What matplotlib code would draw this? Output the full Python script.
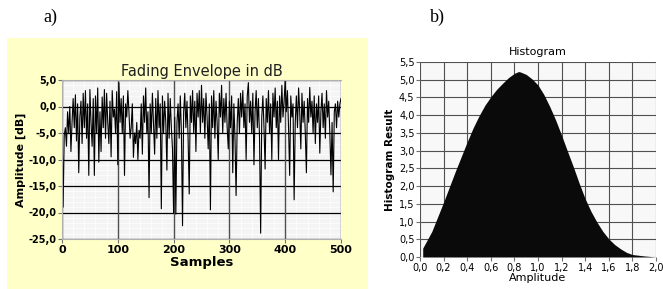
import numpy as np
import matplotlib
matplotlib.use("Agg")
import matplotlib.pyplot as plt
from matplotlib.patches import Rectangle
from matplotlib.ticker import FuncFormatter, MultipleLocator

# fading envelope, every 2nd sample (0..500)
fading_db = [
    -2.2, -19.0, -5.5, -4.0, -7.5, -1.0, -5.0, 0.0, -8.5, -3.0,
    1.5, -4.0, 2.2, -6.5, 0.5, -12.5, -2.0, 1.0, -7.0, 2.5,
    -4.0, 3.0, -6.0, 0.5, -13.0, 3.2, -3.0, -7.5, 1.5, -13.0,
    2.0, -5.0, 3.5, -10.5, -1.0, -8.5, 1.8, -4.0, 3.2, -6.0,
    2.5, -3.0, -7.0, 1.0, -9.5, 3.0, -2.0, -0.5, -5.0, 2.8,
    -11.0, 4.5, -3.0, 1.5, -5.0, 2.0, -13.0, 0.5, -2.0, 3.0,
    -1.0, -6.0, -4.0, 0.5, -9.6, -5.0, -7.0, -3.0, -10.0, -4.5,
    -6.0, 0.5, -9.0, 2.0, -3.0, 3.5, -5.0, -1.0, -17.2, 0.5,
    -5.0, 2.5, -3.0, -9.0, 1.5, -6.0, 3.0, -4.0, 0.5, -19.3,
    2.0, -5.0, 1.0, -3.0, -12.0, 2.5, -6.0, 1.5, -4.0, -8.0,
    -20.2, -2.0, -20.3, -3.0, 0.5, -6.0, 2.0, -5.0, -22.5, -1.0,
    2.5, -4.0, 1.0, -6.0, -16.5, 2.0, -3.0, 3.0, -5.0, 1.0,
    -8.5, 2.5, -2.0, 3.0, -5.0, 4.0, -3.0, 1.5, -6.0, 2.5,
    -2.0, -8.0, 0.5, -19.5, 2.0, -4.0, 3.0, -6.0, 1.0, -3.0,
    -10.0, 2.5, -2.0, 4.0, -5.0, 1.5, -3.0, 2.5, -4.0, -8.0,
    1.0, -4.0, 2.0, -12.5, 0.5, -6.0, -16.8, -3.0, 1.5, -5.0,
    2.5, -2.0, 3.0, -4.0, 0.5, -10.0, 2.0, 4.5, -3.0, 1.0,
    -5.0, 2.5, -11.0, -1.0, 3.0, -4.0, 1.5, -6.0, -23.9, -2.0,
    2.0, -4.0, -11.8, 1.5, -3.0, 3.0, -5.0, 0.5, -10.0, 2.5,
    -2.0, 3.5, -4.0, 1.0, -10.0, 2.0, -3.0, 4.0, -2.0, 1.0,
    5.0, -1.0, 3.0, -4.0, -13.0, 2.0, -2.0, 0.5, -17.6, -3.0,
    2.0, -4.0, 3.5, -1.0, -8.0, 2.5, -3.0, 1.0, -5.0, -12.5,
    1.5, -3.0, 3.6, -2.0, 1.0, -5.0, 2.0, -7.0, 0.5, -3.0,
    2.0, -8.8, -1.0, 2.5, -4.0, 0.5, -6.0, 3.0, -2.0, 1.0,
    -5.0, -12.9, -3.0, -16.1, -1.0, 0.5, -4.0, 1.0, -2.0, 0.5,
    1.5,
]
samples = np.arange(len(fading_db)) * 2

# histogram curve
hist_amp = [0.023, 0.023, 0.1, 0.2, 0.3, 0.4, 0.45, 0.5, 0.55, 0.6, 0.65, 0.7, 0.75,
            0.8, 0.835, 0.85, 0.9, 0.95, 1.0, 1.05, 1.1, 1.15, 1.2, 1.25, 1.3,
            1.35, 1.4, 1.45, 1.5, 1.55, 1.6, 1.65, 1.7, 1.75, 1.8, 1.9, 2.0]
hist_val = [0.0, 0.25, 0.72, 1.55, 2.42, 3.25, 3.64, 3.98, 4.28, 4.52, 4.73, 4.9, 5.06,
            5.18, 5.23, 5.22, 5.15, 5.02, 4.85, 4.58, 4.24, 3.86, 3.43, 2.98, 2.54,
            2.07, 1.64, 1.28, 0.98, 0.72, 0.51, 0.35, 0.23, 0.13, 0.07, 0.03, 0.0]

comma = lambda fmt: FuncFormatter(lambda v, p: (fmt % v).replace(".", ","))

fig = plt.figure(figsize=(6.63, 2.89), dpi=100)
panel = Rectangle((7 / 663, 0), 361 / 663, 251 / 289, transform=fig.transFigure,
                  facecolor="#FFFFC8", edgecolor="none", zorder=-1)
fig.patches.append(panel)

# ---- a) fading envelope
ax1 = fig.add_axes([62 / 663, 50 / 289, 279 / 663, 159 / 289], zorder=2)
ax1.set_facecolor("#F4F4F4")
ax1.set_xlim(0, 500)
ax1.set_ylim(-25, 5)
ax1.xaxis.set_major_locator(MultipleLocator(100))
ax1.yaxis.set_major_locator(MultipleLocator(5))
ax1.xaxis.set_minor_locator(MultipleLocator(20))
ax1.yaxis.set_minor_locator(MultipleLocator(1))
ax1.yaxis.set_major_formatter(comma("%.1f"))
ax1.grid(which="minor", color="white", lw=0.5)
for yv in ax1.get_yticks()[1:-1]:
    ax1.axhline(yv, color="black", lw=0.9, zorder=1.8)
for xv in ax1.get_xticks()[1:-1]:
    ax1.axvline(xv, color="#505050", lw=1.0, zorder=1.8)
ax1.plot(samples, fading_db, color="black", lw=0.8, zorder=2.5)
ax1.tick_params(which="minor", length=0)
ax1.tick_params(which="major", length=3, width=0.8, color="#707070", pad=1)
for lab in ax1.get_xticklabels() + ax1.get_yticklabels():
    lab.set_fontweight("bold")
ax1.tick_params(axis="y", labelsize=7)
ax1.tick_params(axis="x", labelsize=8)
for s in ax1.spines.values():
    s.set_color("#B0B0B0")
ax1.spines["right"].set_visible(False)
ax1.set_title("Fading Envelope in dB", fontsize=10.5, pad=3, color="#202020")
ax1.set_xlabel("Samples", fontsize=9.5, fontweight="bold", labelpad=1)
ax1.set_ylabel("Amplitude [dB]", fontsize=8, fontweight="bold", labelpad=2)

# ---- b) histogram
ax2 = fig.add_axes([420 / 663, 32 / 289, 236 / 663, 195 / 289], zorder=2)
ax2.set_facecolor("#F8F8F8")
ax2.fill_between(hist_amp, hist_val, 0, color="#0A0A0A", lw=0, zorder=3)
ax2.set_xlim(0, 2)
ax2.set_ylim(0, 5.5)
ax2.xaxis.set_major_locator(MultipleLocator(0.2))
ax2.yaxis.set_major_locator(MultipleLocator(0.5))
ax2.xaxis.set_major_formatter(comma("%.1f"))
ax2.yaxis.set_major_formatter(comma("%.1f"))
ax2.grid(color="#505050", lw=0.8, zorder=1)
ax2.set_axisbelow(True)
ax2.tick_params(length=3, width=0.8, color="#707070", labelsize=7, pad=1)
for s in ax2.spines.values():
    s.set_visible(False)
ax2.set_title("Histogram", fontsize=8, pad=5)
ax2.set_xlabel("Amplitude", fontsize=8, labelpad=0)
ax2.set_ylabel("Histogram Result", fontsize=7.5, fontweight="bold", labelpad=3)

fig.text(50 / 663, 1 - 17 / 289, "a)", family="Liberation Serif", fontsize=13,
         ha="center", va="center")
fig.text(437 / 663, 1 - 17 / 289, "b)", family="Liberation Serif", fontsize=13,
         ha="center", va="center")

fig.savefig("out.png", dpi=100)
